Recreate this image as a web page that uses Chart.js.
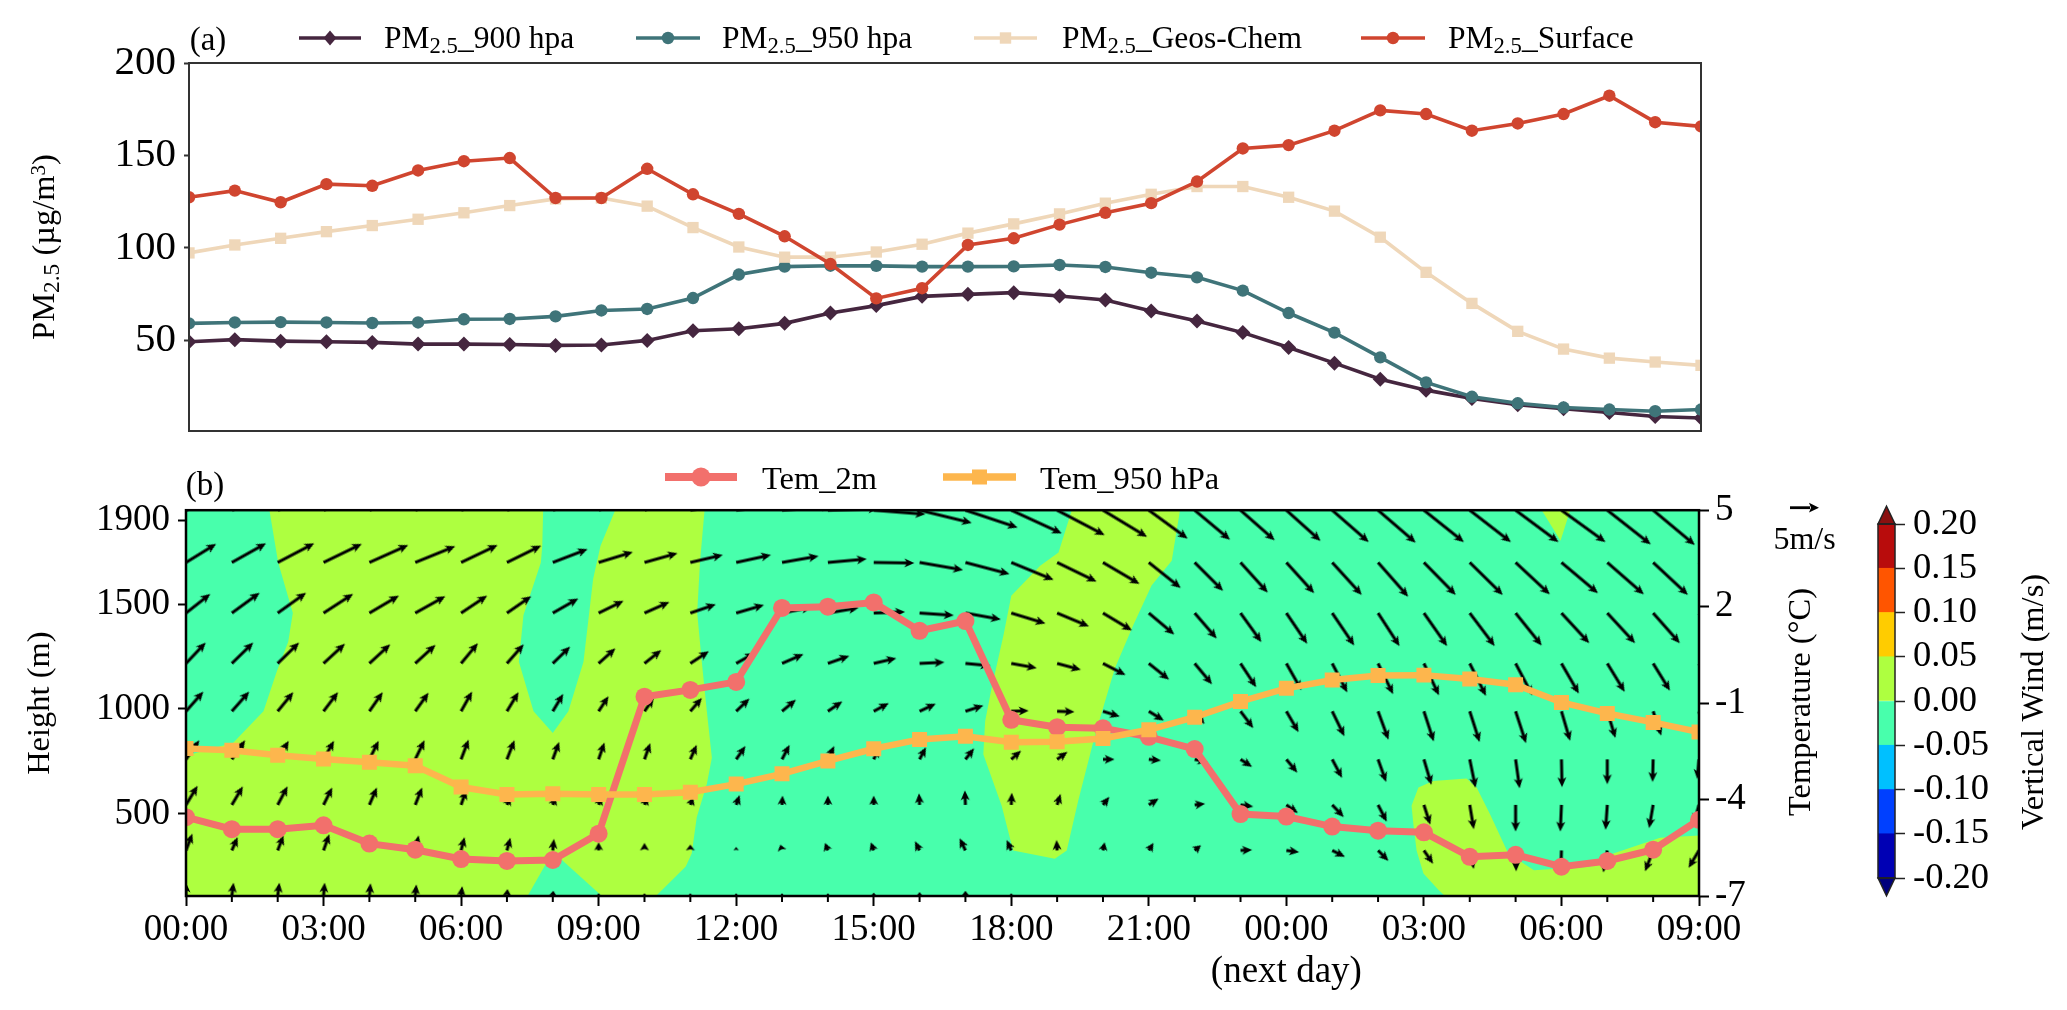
<!DOCTYPE html>
<html>
<head>
<meta charset="utf-8">
<title>PM2.5 and wind profile</title>
<script src="https://cdn.jsdelivr.net/npm/chart.js@4"></script>
<style>
  html, body { margin: 0; padding: 0; background: #fff; overflow: hidden; }
  #page { position: relative; width: 2067px; height: 1010px; font-family: "Liberation Serif", serif; color: #000; }
  #page canvas { position: absolute; }
  .txt { position: absolute; white-space: nowrap; line-height: 1; }
  .txt sub { font-size: .72em; vertical-align: -.22em; line-height: 0; }
  .txt sup { font-size: .65em; vertical-align: .4em; line-height: 0; }
  #page svg { position: absolute; overflow: visible; }
</style>
</head>
<body>
<div id="page">
  <canvas id="chartA" width="2067" height="490" style="left:0;top:0"></canvas>
  <canvas id="chartB" width="1860" height="530" style="left:0;top:480px"></canvas>
  <canvas id="chartBar" width="207" height="420" style="left:1860px;top:490px"></canvas>
</div>
<script>
// hours since 00:00, shared by both panels
const hours = [0,1,2,3,4,5,6,7,8,9,10,11,12,13,14,15,16,17,18,19,20,21,22,23,24,25,26,27,28,29,30,31,32,33];

// panel (a)
const pm900 = [49.3,50.4,49.6,49.3,48.9,48,48,47.8,47.3,47.5,50,55.2,56.3,59.2,64.8,68.8,73.8,74.9,75.8,74,71.8,65.9,60.5,54.2,46.2,37.7,29,23.1,18.6,15.2,13,11,8.8,8];
const pm950 = [59.2,59.7,59.9,59.7,59.4,59.7,61.4,61.6,63,66.2,67,72.9,85.6,89.9,90.4,90.3,89.9,89.9,90,90.8,89.7,86.6,84.1,76.9,64.8,54.2,40.8,27.3,19.5,16,13.7,12.6,11.7,12.6];
const pmGeos = [97.3,101.6,105.2,108.8,112.1,115.5,119,122.9,126.5,127,122.6,111,100.5,95,95,97.8,102,108,113,118.4,124.2,129,133.2,133.2,127.4,119.9,105.8,86.8,70,54.9,45.3,40.4,38.3,36.5];
const pmSurface = [127.4,131,124.7,134.5,133.6,141.9,146.9,148.6,127,127,142.8,129,118.4,106.3,91.3,72.7,78.2,101.6,105.2,112.6,119,124.2,135.9,153.8,155.6,163.4,174.4,172.4,163.4,167.3,172.4,182.3,168,165.7];
const pmTicks = [50,100,150,200];

// panel (b) temperature
const tem2m = [-4.55,-4.92,-4.92,-4.8,-5.37,-5.56,-5.85,-5.91,-5.88,-5.06,-0.8,-0.59,-0.34,1.96,2,2.13,1.25,1.55,-1.52,-1.75,-1.78,-2.05,-2.43,-4.45,-4.53,-4.84,-4.97,-5.02,-5.78,-5.72,-6.09,-5.91,-5.56,-4.63];
const tem950 = [-2.41,-2.47,-2.62,-2.74,-2.84,-2.95,-3.61,-3.84,-3.82,-3.84,-3.84,-3.77,-3.52,-3.2,-2.8,-2.42,-2.13,-2.03,-2.22,-2.2,-2.1,-1.83,-1.44,-0.95,-0.54,-0.28,-0.14,-0.13,-0.25,-0.43,-0.98,-1.32,-1.6,-1.9];
const heightTicks = [500,1000,1500,1900];
const tempTicks = [-7,-4,-1,2,5];
const hourTicks = [0,3,6,9,12,15,18,21,24,27,30,33];
const hourLabels = ['00:00','03:00','06:00','09:00','12:00','15:00','18:00','21:00',['00:00','(next day)'],'03:00','06:00','09:00'];

// wind field, one row per height level, m/s
const windHeights = [1947,1698,1457,1217,989,760,543,326,109];
const windU = [
  [7.5,7.5,7.5,7.5,7.5,7.5,7.5,7.5,7.5,7.5,7.5,8,8.3,8.6,8.7,8.9,9,9,8.7,8.2,7.6,6.7,6.1,5.9,5.9,6.3,6.5,6.9,7.1,7.4,7.6,7.5,7.2,6.9],
  [5.2,5.9,6.3,6.6,6.7,6.9,6.3,5.9,6,5.9,5.7,5.6,6,6.3,6.7,7,7.5,7.6,7.3,6.8,6.3,5.5,4.9,4.7,4.8,5.1,5.2,5.5,5.7,5.9,6.3,6.3,6,5.7],
  [4.2,4.8,4.9,5.1,5.1,5.2,4.5,4.2,4.4,4.3,4.3,4.4,4.8,5.1,5.3,5.4,5.9,6.1,5.9,5.5,5,4.4,3.8,3.6,3.6,3.8,3.7,4,4.3,4.5,4.8,4.8,4.6,4.3],
  [3.4,3.7,3.7,3.7,3.6,3.5,2.9,2.9,3,2.9,2.9,3.2,3.2,3.7,3.7,3.9,4.3,4.3,4.4,4.1,3.9,3.5,3,2.7,2.6,2.6,2.6,2.6,2.8,2.9,3,3,2.9,2.8],
  [3,3,2.7,2.5,2.3,2.3,1.9,2,1.8,1.7,1.6,2,2.3,2.4,2.5,2.6,2.8,3.1,3,3,2.9,2.6,1.7,2.2,2.1,2.1,1.8,1.7,1.7,1.8,1.5,1.4,1.4,1.3],
  [2.3,2.3,1.9,1.8,1.6,1.6,1.3,1.3,1.1,1,1,1.1,1.6,1.3,1.1,0.9,1.1,1.5,1.7,1.8,2,2.1,2.2,2,1.9,1.7,1.4,1.3,1,0.7,0.1,0,-0.1,-0.3],
  [2,1.9,1.7,1.5,1.3,1.2,0.9,0.6,0.5,0.5,0.5,0.5,0.6,0.1,0,0,-0.1,-0.1,0.1,0.6,1.1,1.7,1.8,2.2,2,2,1.5,1.1,0.7,0,-0.2,-0.3,-0.7,-0.9],
  [1.1,1,1,1,0.6,0.6,0.6,0.6,0.2,0,0,0,0,-0.3,-0.5,-0.5,-0.8,-1,-0.8,-0.1,0.3,0.8,1.1,2,2.2,2.2,1.8,1.6,0.7,0.1,-0.1,-0.7,-1.4,-1.8],
  [0,0.3,0.3,0.2,0.2,0.2,0.2,0.1,0.1,0,0,0,0,0,0,0,0,0,0,0,0,0,0,0,0,0,0,0,0,0,0,0,0,0]
];
const windV = [
  [3.4,3.4,3.4,3.4,3.4,3.4,3.4,3.4,3.4,3.4,3.4,1.4,1.1,0.7,0.3,-0.7,-2.2,-3,-4,-4.3,-4.6,-4.9,-5.1,-5.2,-5.3,-5.5,-5.6,-5.5,-5.5,-5.5,-5.5,-5.9,-6,-5.7],
  [3.2,3.3,3.3,3.2,3,2.8,3,2.9,2.3,1.8,1.6,1.3,1.3,1.1,0.6,-0.1,-1.3,-2,-3,-3.3,-3.7,-4.4,-4.9,-5.2,-5.3,-5.6,-5.9,-5.6,-5.6,-5.5,-5.3,-5.5,-5.6,-5.6],
  [3.3,3.5,3.5,3.3,3,2.9,3,2.9,2.5,2.1,1.9,1.5,1.4,1,0.9,0.2,-0.4,-1.1,-1.8,-2.3,-3,-3.7,-4.4,-5,-5.3,-5.6,-5.7,-5.7,-5.7,-5.6,-5.2,-5.2,-5.2,-5.2],
  [3.6,3.6,3.6,3.4,3.3,3.2,3.5,3.3,2.9,2.6,2.3,2.1,1.8,1.6,1.3,0.9,0.2,-0.4,-0.8,-1.1,-2,-2.8,-3.6,-4.1,-4.6,-5,-5.3,-5.5,-5.6,-5.5,-5.2,-4.9,-4.7,-4.6],
  [3.4,3.4,3.3,3.3,3.3,3.2,3.4,3.3,3,2.6,2.3,2.3,2.2,2,1.7,1.4,1.3,1,0.1,-0.1,-0.9,-1.6,-2.2,-2.9,-3.6,-4.3,-4.9,-5.2,-5.3,-5.5,-5.1,-4.6,-4.2,-4],
  [3.3,3.3,3.2,3.2,3.2,3.3,3.4,3.3,3,2.9,2.8,2.5,2.3,2.5,2.3,2,2.1,1.9,1.5,1.3,0,-0.2,-0.5,-1.3,-2.3,-3.2,-3.9,-4.4,-4.9,-5,-4.8,-4.3,-3.9,-3.4],
  [3.3,3.2,3.2,3,3,3,2.6,1.4,1.4,1.4,1.4,1.3,1.7,1.6,1.6,1.6,2,2.5,2.1,1.9,1.4,1.1,0.2,-0.3,-1.4,-2.1,-2.9,-3.4,-4.2,-4.6,-4.6,-4.3,-4,-3.2],
  [2.9,2.3,2.6,2.8,2.6,2.6,2.3,2.2,2,1.4,1.3,1,0.6,1,1.3,1.4,1.6,2.1,1.8,1.8,1.4,1.3,0.9,0.1,-0.3,-1.1,-1.8,-2.3,-3.2,-3.6,-3.4,-3.8,-3.6,-3],
  [2.3,2.3,2.3,2.3,2.2,2,1.7,1.2,0.9,0.5,0.5,0.5,0.5,0.5,0.5,0.6,0.7,0.9,0.5,0,0,0,0,0,0,0,0,0,0,0,0,0,0,0]
];

// vertical wind bands as [hour, height] outlines, painted in this order
const limeLeft = [[0,1947],[11.31,1947],[11.21,1698],[11.15,1457],[11.25,1225],[11.36,989],[11.47,768],[11.36,642],[11.14,484],[11.03,311],[10.9,250],[10.25,109],[0,109]];
const tealCorner = [[0,1947],[1.82,1947],[2.01,1698],[2.33,1457],[2.23,1320],[1.98,1178],[1.69,989],[1.03,839],[0.12,784],[0,768]];
const tealMiddle = [[7.79,1947],[7.77,1777],[7.74,1698],[7.36,1446],[7.26,1225],[7.58,989],[8,886],[8.34,989],[8.67,1225],[8.88,1619],[9.04,1777],[9.36,1947]];
const tealBottom = [[7.45,109],[8,320],[9.07,109]];
const limeEvening = [[19.32,1947],[19.03,1745],[18.63,1682],[18,1540],[17.83,1351],[17.57,1099],[17.43,941],[17.39,784],[17.79,539],[18.04,326],[18.95,287],[19.21,326],[19.46,563],[19.83,878],[20.26,1194],[20.66,1399],[21.06,1588],[21.5,1706],[21.68,1947]];
const limeTop = [[29.57,1947],[29.98,1801],[30.19,1947]];
const limeMorning = [[26.88,626],[26.73,539],[26.77,452],[26.84,326],[26.99,216],[27.32,137],[27.46,109],[33,109],[33,397],[32.15,386],[31.13,311],[30.62,248],[29.4,232],[28.84,311],[28.44,500],[28.15,626],[27.93,669],[27.2,657]];

// colour bar
const barLevels = [-0.2,-0.15,-0.1,-0.05,0,0.05,0.1,0.15,0.2];
const barColors = ['#0000b4','#0040ff','#00c0ff','#48ffac','#aeff40','#ffcc00','#ff5500','#b80c0c'];

const TEAL = barColors[3], LIME = barColors[4];
const FONT = 'Liberation Serif';
const PX_PER_MS = 5.8; // the 5 m/s key arrow is 29 px long

function xy(xs, ys) { return xs.map((x, i) => ({ x: x, y: ys[i] })); }

// arrow tail sits at the middle of the canvas so the point anchors at the tail
function arrowCanvas(len) {
  const c = document.createElement('canvas');
  const s = 2 * Math.ceil(len + 8);
  c.width = s; c.height = s;
  const g = c.getContext('2d');
  const head = Math.min(10, len);
  const hw = len < 6 ? 4.6 * Math.max(len, 2.5) / 6 : 4.6;
  const sw = len < 8 ? 0 : 1.4;
  g.translate(s / 2, s / 2);
  g.fillStyle = '#000';
  g.beginPath();
  g.moveTo(0, -sw);
  g.lineTo(len - head * 0.8, -sw);
  g.lineTo(len - head, -hw);
  g.lineTo(len, 0);
  g.lineTo(len - head, hw);
  g.lineTo(len - head * 0.8, sw);
  g.lineTo(0, sw);
  g.closePath();
  g.fill();
  return c;
}

const windPoints = [];
windHeights.forEach((h, r) => {
  hours.forEach((t, i) => windPoints.push({ x: t, y: h, u: windU[r][i], v: windV[r][i] }));
});

function windLen(p) { return Math.hypot(p.u, p.v) * PX_PER_MS; }

const framePlugin = {
  id: 'frame',
  afterDraw(chart, args, opts) {
    const a = chart.chartArea, g = chart.ctx;
    g.save();
    g.strokeStyle = opts.color;
    g.lineWidth = opts.width;
    g.strokeRect(a.left, a.top, a.right - a.left, a.bottom - a.top);
    g.restore();
  }
};

const contourPlugin = {
  id: 'contours',
  beforeDatasetsDraw(chart) {
    const a = chart.chartArea, g = chart.ctx, sx = chart.scales.x, sy = chart.scales.y;
    const paint = (shape, color) => {
      g.fillStyle = color;
      g.beginPath();
      shape.forEach((p, i) => {
        const px = sx.getPixelForValue(p[0]), py = sy.getPixelForValue(p[1]);
        if (i) g.lineTo(px, py); else g.moveTo(px, py);
      });
      g.closePath();
      g.fill();
    };
    g.save();
    g.beginPath();
    g.rect(a.left, a.top, a.right - a.left, a.bottom - a.top);
    g.clip();
    g.fillStyle = TEAL;
    g.fillRect(a.left, a.top, a.right - a.left, a.bottom - a.top);
    paint(limeLeft, LIME);
    paint(tealCorner, TEAL);
    paint(tealMiddle, TEAL);
    paint(tealBottom, TEAL);
    paint(limeEvening, LIME);
    paint(limeTop, LIME);
    paint(limeMorning, LIME);
    g.restore();
  }
};

// hourly minor ticks, Chart.js has one tick length per axis
const minorTickPlugin = {
  id: 'minorTicks',
  afterDraw(chart) {
    const g = chart.ctx, sx = chart.scales.x, b = chart.chartArea.bottom;
    g.save();
    g.strokeStyle = '#000';
    g.lineWidth = 2;
    hours.filter(h => !hourTicks.includes(h)).forEach(h => {
      const px = sx.getPixelForValue(h);
      g.beginPath();
      g.moveTo(px, b);
      g.lineTo(px, b + 6);
      g.stroke();
    });
    g.restore();
  }
};

const barEndsPlugin = {
  id: 'barEnds',
  afterDraw(chart) {
    const g = chart.ctx, a = chart.chartArea, sy = chart.scales.y;
    const mid = (a.left + a.right) / 2;
    const tri = (edge, tip, color) => {
      g.beginPath();
      g.moveTo(a.left, sy.getPixelForValue(edge));
      g.lineTo(mid, sy.getPixelForValue(tip));
      g.lineTo(a.right, sy.getPixelForValue(edge));
      g.closePath();
      g.fillStyle = color;
      g.fill();
      g.stroke();
    };
    g.save();
    g.strokeStyle = '#222';
    g.lineWidth = 1.5;
    tri(0.2, 0.22, '#8a1010');
    tri(-0.2, -0.22, '#00007c');
    g.strokeRect(a.left, a.top, a.right - a.left, a.bottom - a.top);
    g.restore();
  }
};

Chart.defaults.font.family = FONT;
Chart.defaults.color = '#000';
Chart.defaults.animation = false;
Chart.defaults.plugins.legend.display = false;
Chart.defaults.plugins.tooltip.enabled = false;

function lineSet(label, ys, color, shape, radius, width, order, axis) {
  return {
    label: label, data: xy(hours, ys), showLine: true, clip: 0, order: order,
    borderColor: color, backgroundColor: color, borderWidth: width,
    pointStyle: shape, pointRadius: radius, pointBackgroundColor: color, pointBorderColor: color,
    pointBorderWidth: 0, yAxisID: axis
  };
}

new Chart(document.getElementById('chartA'), {
  type: 'scatter',
  data: {
    datasets: [
      lineSet('PM2.5_900 hpa', pm900, '#45263f', 'rectRot', 7.5, 3.6, 4, 'y'),
      lineSet('PM2.5_950 hpa', pm950, '#3f7479', 'circle', 6.2, 3.6, 3, 'y'),
      lineSet('PM2.5_Geos-Chem', pmGeos, '#efd7b9', 'rect', 8, 3.6, 2, 'y'),
      lineSet('PM2.5_Surface', pmSurface, '#d0452f', 'circle', 6.2, 3.6, 1, 'y')
    ]
  },
  options: {
    responsive: false,
    layout: { padding: { top: 63, bottom: 59, right: 366, left: 0 } },
    scales: {
      x: { type: 'linear', min: 0, max: 33, display: false },
      y: {
        min: 1, max: 200,
        afterFit(s) { s.width = 189; },
        afterBuildTicks(s) { s.ticks = pmTicks.map(v => ({ value: v })); },
        grid: { drawOnChartArea: false, tickLength: 5, tickColor: '#333', tickWidth: 2 },
        border: { color: '#333', width: 2 },
        ticks: { font: { size: 41 }, padding: 8, callback: v => String(v) }
      }
    },
    plugins: { frame: { color: '#333', width: 2 } }
  },
  plugins: [framePlugin]
});

new Chart(document.getElementById('chartB'), {
  type: 'scatter',
  data: {
    datasets: [
      lineSet('Tem_950 hPa', tem950, '#fdb64d', 'rect', 10.6, 6.5, 1, 'y2'),
      lineSet('Tem_2m', tem2m, '#f2706c', 'circle', 9, 7, 2, 'y2'),
      {
        label: 'Wind', data: windPoints, clip: 0, order: 3, yAxisID: 'y',
        pointRadius: c => windLen(c.raw) > 0 ? 1 : 0,
        pointBorderWidth: 0,
        pointStyle: c => arrowCanvas(windLen(c.raw)),
        rotation: c => Math.atan2(-c.raw.v, c.raw.u) * 180 / Math.PI
      }
    ]
  },
  options: {
    responsive: false,
    layout: { padding: { top: 27, bottom: 14, right: 101, left: 0 } },
    scales: {
      x: {
        type: 'linear', min: 0, max: 33,
        afterFit(s) { s.height = 100; },
        afterBuildTicks(s) { s.ticks = hourTicks.map(v => ({ value: v })); },
        grid: { drawOnChartArea: false, tickLength: 10, tickColor: '#000', tickWidth: 2 },
        border: { color: '#000', width: 2 },
        ticks: {
          font: { size: 37, lineHeight: 1.135 }, padding: 3, autoSkip: false, maxRotation: 0,
          callback: v => hourLabels[hourTicks.indexOf(v)]
        }
      },
      y: {
        min: 109, max: 1947,
        afterFit(s) { s.width = 186; },
        afterBuildTicks(s) { s.ticks = heightTicks.map(v => ({ value: v })); },
        grid: { drawOnChartArea: false, tickLength: 8, tickColor: '#000', tickWidth: 2 },
        border: { color: '#000', width: 2 },
        ticks: { font: { size: 37 }, padding: 8, callback: v => String(v) },
        title: { display: true, text: 'Height (m)', font: { size: 32.5 }, padding: { top: 21, bottom: 0 } }
      },
      y2: {
        position: 'right', min: -7, max: 5,
        afterFit(s) { s.width = 60; },
        afterBuildTicks(s) { s.ticks = tempTicks.map(v => ({ value: v })); },
        grid: { drawOnChartArea: false, tickLength: 10, tickColor: '#000', tickWidth: 2 },
        border: { color: '#000', width: 2 },
        ticks: { font: { size: 37 }, padding: 6, callback: v => String(v) }
      }
    },
    plugins: { frame: { color: '#000', width: 2.5 } }
  },
  plugins: [contourPlugin, framePlugin, minorTickPlugin]
});

new Chart(document.getElementById('chartBar'), {
  type: 'bar',
  data: {
    labels: ['w'],
    datasets: barColors.map((color, i) => ({
      data: [[barLevels[i], barLevels[i + 1]]],
      backgroundColor: color, grouped: false, barPercentage: 1, categoryPercentage: 1
    }))
  },
  options: {
    responsive: false,
    layout: { padding: { top: 34, bottom: 32, left: 18, right: 0 } },
    scales: {
      x: { display: false },
      y: {
        position: 'right', min: -0.2, max: 0.2,
        afterFit(s) { s.width = 172; },
        afterBuildTicks(s) { s.ticks = barLevels.map(v => ({ value: v })); },
        grid: { drawOnChartArea: false, tickLength: 10, tickColor: '#222', tickWidth: 1.5 },
        border: { display: false },
        ticks: { font: { size: 36.5 }, padding: 8, autoSkip: false, callback: v => v.toFixed(2) }
      }
    }
  },
  plugins: [barEndsPlugin]
});

// text that needs sub/superscripts or bottom-to-top rotation, plus the legend samples
const page = document.getElementById('page');
function addText(html, x, y, size, opts) {
  const o = opts || {};
  const d = document.createElement('div');
  d.className = 'txt';
  d.innerHTML = html;
  d.style.left = x + 'px';
  d.style.top = y + 'px';
  d.style.fontSize = size + 'px';
  d.style.transform = (o.left ? 'translate(0,-50%)' : 'translate(-50%,-50%)') + (o.rotate ? ' rotate(-90deg)' : '');
  page.appendChild(d);
}

function marker(shape, x, y, r, color) {
  if (shape === 'circle') return `<circle cx="${x}" cy="${y}" r="${r}" fill="${color}"/>`;
  if (shape === 'rect') return `<rect x="${x - r}" y="${y - r}" width="${2 * r}" height="${2 * r}" fill="${color}"/>`;
  return `<polygon points="${x},${y - r} ${x + r * 0.85},${y} ${x},${y + r} ${x - r * 0.85},${y}" fill="${color}"/>`;
}

function sample(x0, x1, y, color, width, shape, r) {
  const svg = document.createElementNS('http://www.w3.org/2000/svg', 'svg');
  svg.setAttribute('width', 2067);
  svg.setAttribute('height', 1010);
  svg.style.left = '0';
  svg.style.top = '0';
  svg.innerHTML = `<line x1="${x0}" y1="${y}" x2="${x1}" y2="${y}" stroke="${color}" stroke-width="${width}"/>` + marker(shape, (x0 + x1) / 2, y, r, color);
  page.appendChild(svg);
}

addText('(a)', 208, 39, 33);
addText('(b)', 205, 484, 33);

sample(299, 361, 38, '#45263f', 3.6, 'diamond', 7.5);
addText('PM<sub>2.5</sub>_900 hpa', 384, 38, 31.5, { left: true });
sample(636, 700, 38, '#3f7479', 3.6, 'circle', 6.2);
addText('PM<sub>2.5</sub>_950 hpa', 722, 38, 31.5, { left: true });
sample(974, 1037, 38, '#efd7b9', 3.6, 'rect', 5.7);
addText('PM<sub>2.5</sub>_Geos-Chem', 1062, 38, 31.5, { left: true });
sample(1361, 1425, 38, '#d0452f', 3.6, 'circle', 6.2);
addText('PM<sub>2.5</sub>_Surface', 1448, 38, 31.5, { left: true });

sample(665, 737, 477, '#f2706c', 8, 'circle', 9.5);
addText('Tem_2m', 762, 478, 32.5, { left: true });
sample(943, 1016, 477, '#fdb64d', 7.5, 'rect', 7.5);
addText('Tem_950 hPa', 1040, 478, 32.5, { left: true });

addText('PM<sub>2.5</sub> (µg/m<sup>3</sup>)', 43, 247, 32.5, { rotate: true });
addText('Temperature (°C)', 1799, 702, 32.5, { rotate: true });
addText('Vertical Wind (m/s)', 2032, 702, 32.5, { rotate: true });
addText('5m/s', 1804.5, 538, 32);

// key arrow for the wind scale
const keySvg = document.createElementNS('http://www.w3.org/2000/svg', 'svg');
keySvg.setAttribute('width', 2067);
keySvg.setAttribute('height', 1010);
keySvg.style.left = '0';
keySvg.style.top = '0';
keySvg.innerHTML = '<line x1="1790" y1="507.7" x2="1810" y2="507.7" stroke="#000" stroke-width="2.8"/><polygon points="1819,507.7 1809,502.8 1811,507.7 1809,512.6" fill="#000"/>';
page.appendChild(keySvg);
</script>
</body>
</html>
